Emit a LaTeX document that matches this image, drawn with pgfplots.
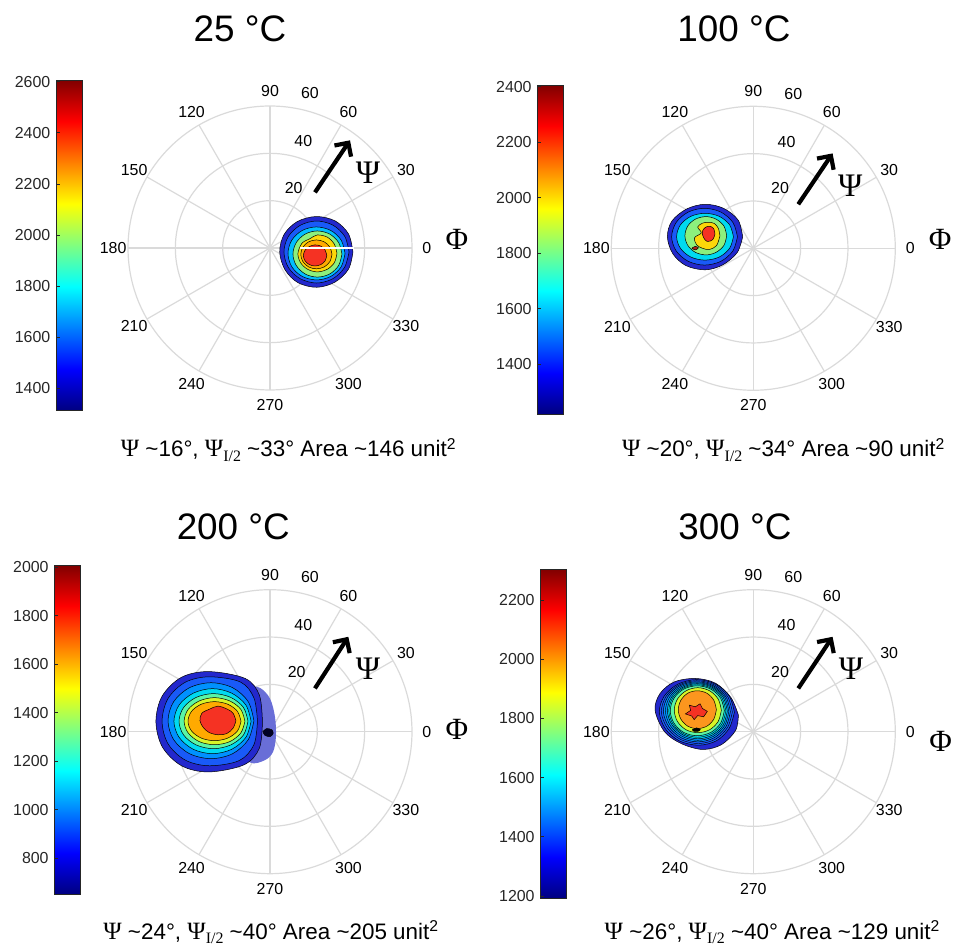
\documentclass[border=0pt]{standalone}
\usepackage{pgfplots}
\pgfplotsset{compat=1.18}
\usepackage{fontspec}
\setmainfont{Liberation Sans}
\newfontfamily\seriffont{Liberation Serif}
\usetikzlibrary{calc,arrows.meta}

\definecolor{gridgray}{RGB}{218,218,218}
\definecolor{tickdark}{RGB}{38,38,38}
\definecolor{cNavy}{RGB}{35,40,205}
\definecolor{cBlue}{RGB}{25,90,248}
\definecolor{cMid}{RGB}{0,145,255}
\definecolor{cSky}{RGB}{0,190,255}
\definecolor{cCyan}{RGB}{0,218,240}
\definecolor{cAqua}{RGB}{90,245,165}
\definecolor{cGreen}{RGB}{140,240,125}
\definecolor{cYG}{RGB}{215,245,40}
\definecolor{cYellow}{RGB}{252,215,10}
\definecolor{cOrange}{RGB}{255,170,0}
\definecolor{cOrange2}{RGB}{252,150,30}
\definecolor{cRed}{RGB}{245,50,35}
\definecolor{cLobe}{RGB}{105,110,215}

\pgfplotsset{
  polarbase/.style={
    scale only axis, width=331.3bp, height=331.3bp,
    xmin=-70, xmax=70, ymin=-70, ymax=70,
    hide axis, clip=false, anchor=center,
    colormap/jet, colorbar left,
    colorbar shift/.style={},
    colorbar/width=26.4bp,
    colorbar style={
      anchor=south west,
      scale only axis,
      width=26.4bp,
      yticklabel pos=left, ytick pos=left,
      axis line style={draw=tickdark, line width=0.8bp},
      major tick style={draw=tickdark, line width=0.8bp},
      major tick length=4bp,
      yticklabel style={font=\fontsize{16}{19}\selectfont, text=tickdark, inner sep=0pt, xshift=-5.5bp},
      /pgf/number format/1000 sep={},
      /pgf/number format/assume math mode=true,
    },
  },
  blob/.style={draw=black, line width=0.5bp, smooth, tension=0.55},
  cline/.style={draw=black, line width=0.45bp, smooth, tension=0.55},
}

\newcommand{\polargrid}{%
  \draw[gridgray, line width=1.2bp] (axis cs:0,0) circle[radius=20];
  \draw[gridgray, line width=1.2bp] (axis cs:0,0) circle[radius=40];
  \draw[gridgray, line width=1.2bp] (axis cs:0,0) circle[radius=60];
  \pgfplotsinvokeforeach{0,30,...,330}{%
    \draw[gridgray, line width=1.2bp] (axis cs:0,0) -- (axis cs:{60*cos(##1)},{60*sin(##1)});
  }%
}
\newcommand{\polarlabels}[1]{%
  \pgfplotsinvokeforeach{0,30,...,330}{%
    \node[font=\fontsize{16}{19}\selectfont, inner sep=0pt] at (axis cs:{66.3*cos(##1)},{66.3*sin(##1)}) {##1};
  }%
  \node[font=\fontsize{16}{19}\selectfont, inner sep=0pt] at (axis cs:#1,25.35) {20};
  \node[font=\fontsize{16}{19}\selectfont, inner sep=0pt] at (axis cs:14.07,45.1) {40};
  \node[font=\fontsize{16}{19}\selectfont, inner sep=0pt] at (axis cs:16.9,65.3) {60};
}
\newcommand{\subt}[3]{{\seriffont\fontsize{25}{25}\selectfont Ψ} \textasciitilde #1°, {\seriffont\fontsize{25}{25}\selectfont Ψ\raisebox{-0.4ex}{\fontsize{16}{16}\selectfont I/2}} \textasciitilde #2° Area \textasciitilde #3 unit\textsuperscript{2}}
\newcommand{\arrowlab}[4]{%
  \draw[line width=4.2bp, -{Straight Barb[length=10bp,width=20bp]}] (axis cs:#1) -- (axis cs:#2);
  \node[font=\seriffont\fontsize{33}{38}\selectfont] at (axis cs:#3) {Ψ};
  \node[font=\seriffont\fontsize{31}{37}\selectfont] at (axis cs:#4) {Φ};
}

\begin{document}
\begin{tikzpicture}
\useasboundingbox (0,0) rectangle (954bp,946bp);

% titles
\node[font=\fontsize{37}{44}\selectfont, anchor=base] at (240bp,904bp) {25 °C};
\node[font=\fontsize{37}{44}\selectfont, anchor=base] at (734bp,904.3bp) {100 °C};
\node[font=\fontsize{37}{44}\selectfont, anchor=base] at (233.3bp,406bp) {200 °C};
\node[font=\fontsize{37}{44}\selectfont, anchor=base] at (735bp,406bp) {300 °C};

% subtitles
\node[font=\fontsize{22.5}{26}\selectfont, anchor=base] at (288.5bp,489.3bp) {\subt{16}{33}{146}};
\node[font=\fontsize{22.5}{26}\selectfont, anchor=base] at (783.5bp,489.3bp) {\subt{20}{34}{90}};
\node[font=\fontsize{22.5}{26}\selectfont, anchor=base] at (271bp,6.7bp) {\subt{24}{40}{205}};
\node[font=\fontsize{22.5}{26}\selectfont, anchor=base] at (772.3bp,6.7bp) {\subt{26}{40}{129}};

% ---------------- 25 C ----------------
\begin{axis}[polarbase, at={(270bp,698bp)},
  point meta min=1312, point meta max=2607,
  colorbar style={at={($(parent axis.center)+(-214bp,-162.7bp)$)}, height=330.7bp, ytick={1400,1600,...,2600}}]
\polargrid
\addplot[blob, fill=cNavy] coordinates {(35.05,-1.7) (33.2,5.9) (27.6,11.4) (19.6,13.3) (11.6,11.2) (6.0,5.8) (4.1,-1.7) (6.4,-9.3) (11.9,-14.7) (19.8,-16.6) (27.5,-14.4) (33.2,-8.9) (35.05,-1.7)};
\addplot[blob, fill=cBlue] coordinates {(33.4,-1.7) (31.6,4.9) (26.5,9.7) (19.6,11.4) (12.8,9.6) (7.7,4.8) (5.9,-1.7) (7.8,-8.3) (12.8,-13.0) (19.7,-14.8) (26.5,-13.0) (31.5,-8.2) (33.4,-1.7)};
\addplot[blob, fill=cSky] coordinates {(31.7,-2.3) (30.1,3.3) (25.7,7.4) (19.6,8.9) (13.6,7.4) (9.2,3.3) (7.6,-2.3) (9.2,-7.9) (13.6,-12.0) (19.7,-13.5) (25.7,-12.0) (30.1,-7.9) (31.7,-2.3)};
\addplot[blob, fill=cGreen] coordinates {(30.4,-2.55) (29.0,2.3) (25.2,5.9) (20.0,7.2) (14.9,5.9) (11.1,2.3) (9.7,-2.55) (11.1,-7.4) (14.9,-11.0) (20.0,-12.3) (25.2,-11.0) (29.0,-7.4) (30.4,-2.55)};
\addplot[blob, fill=cYellow] coordinates {(28.3,-2.3) (27.2,1.6) (24.2,4.6) (20.0,5.5) (17.0,4.0) (13.5,2.0) (11.8,-2.3) (12.9,-6.2) (15.9,-9.0) (20.0,-10.1) (24.2,-9.0) (27.2,-6.2) (28.3,-2.3)};
\addplot[blob, fill=cOrange] coordinates {(26.2,-2.7) (25.3,0.35) (22.9,2.6) (19.6,3.4) (16.3,2.6) (13.9,0.35) (13.0,-2.7) (13.9,-5.75) (16.3,-8.0) (19.6,-8.8) (22.9,-8.0) (25.3,-5.75) (26.2,-2.7)};
\addplot[blob, fill=cRed] coordinates {(24.0,-3.2) (23.3,-0.9) (21.5,0.8) (19.0,1.3) (16.6,0.6) (14.8,-1.0) (14.1,-3.2) (14.8,-5.4) (16.6,-7.0) (19.0,-7.6) (21.5,-7.0) (23.3,-5.4) (24.0,-3.2)};
\draw[white, line width=1.8bp] (axis cs:12.5,0) -- (axis cs:35.3,0);
\polarlabels{10.0}
\arrowlab{19.0,23.5}{33.8,45.5}{41.4,31.7}{79.0,3.8}
\end{axis}

% ---------------- 100 C ----------------
\begin{axis}[polarbase, at={(753.3bp,697.7bp)},
  point meta min=1220, point meta max=2406,
  colorbar style={at={($(parent axis.center)+(-216bp,-166bp)$)}, height=329.3bp, ytick={1400,1600,...,2400}}]
\polargrid
\addplot[blob, fill=cNavy] coordinates {(-4.5,4.8) (-6.4,11.9) (-12.6,16.9) (-20.4,18.6) (-28.2,16.6) (-34.4,11.5) (-36.3,4.8) (-34.0,-2.3) (-28.5,-7.3) (-20.4,-9.1) (-12.9,-7.0) (-6.8,-1.8) (-4.5,4.8)};
\addplot[blob, fill=cBlue] coordinates {(-6.7,4.9) (-8.6,10.9) (-13.7,15.3) (-20.6,16.9) (-27.5,15.3) (-32.6,10.9) (-34.5,4.9) (-32.6,-1.1) (-27.5,-5.5) (-20.6,-7.1) (-13.7,-5.5) (-8.6,-1.1) (-6.7,4.9)};
\addplot[blob, fill=cCyan] coordinates {(-8.4,4.9) (-10.0,9.9) (-14.4,13.5) (-20.4,14.8) (-26.4,13.5) (-30.8,9.9) (-32.4,4.9) (-30.8,0) (-26.4,-3.7) (-20.4,-5.0) (-14.4,-3.7) (-10.0,0) (-8.4,4.9)};
\addplot[blob, fill=cGreen] coordinates {(-11.25,5.3) (-12.4,9.4) (-15.7,12.3) (-20.0,13.4) (-24.5,12.3) (-27.7,9.4) (-28.9,5.3) (-27.7,1.25) (-24.5,-1.7) (-20.0,-2.8) (-15.7,-1.7) (-12.4,1.25) (-11.25,5.3)};
\addplot[blob, fill=cYellow] coordinates {(-14.1,5.3) (-14.8,8.5) (-16.5,10.5) (-19.0,11.0) (-21.5,10.6) (-23.5,9.0) (-22.0,6.5) (-24.8,4.5) (-24.0,1.5) (-21.5,0.0) (-18.5,-0.5) (-15.5,1.2) (-14.1,5.3)};
\addplot[blob, fill=cRed] coordinates {(-16.2,6.0) (-16.8,8.4) (-18.5,9.3) (-20.3,8.8) (-21.6,7.0) (-21.0,4.5) (-19.5,2.9) (-17.2,3.6) (-16.2,6.0)};
\addplot[blob, fill=cRed!70!black] coordinates {(-26,0) (-24.6,0.8) (-23.2,0.2) (-24.5,-0.7) (-26,0)};
\polarlabels{11.28}
\arrowlab{19.0,18.6}{33.5,40.1}{41.0,26.6}{79.0,3.8}
\end{axis}

% ---------------- 200 C ----------------
\begin{axis}[polarbase, at={(270bp,214.3bp)},
  point meta min=652, point meta max=2009,
  colorbar style={at={($(parent axis.center)+(-215.7bp,-162.6bp)$)}, height=329.3bp, ytick={800,1000,...,2000}}]
\polargrid
\addplot[smooth, tension=0.55, draw=none, fill=cLobe] coordinates {(-10,19.5) (-4.2,18.5) (0,14.0) (2.1,6.3) (2.5,-2.1) (1.3,-8.5) (-2.1,-12.0) (-8.5,-13.0) (-15,-5) (-15,15) (-10,19.5)};
\addplot[blob, fill=cNavy] coordinates {(-3.2,4.2) (-4.5,15.5) (-10.5,22.5) (-25.8,25.4) (-37.4,23.0) (-45.6,15.0) (-48.2,4.2) (-45.4,-6.6) (-37.2,-14.5) (-25.8,-17.0) (-11.0,-14.0) (-4.5,-7.0) (-3.2,4.2)};
\addplot[blob, fill=cBlue] coordinates {(-5.3,4.4) (-6.8,14.3) (-12.5,21.0) (-25.6,23.2) (-35.8,20.9) (-43.1,14.0) (-45.6,4.4) (-43.1,-5.1) (-35.8,-12.0) (-25.6,-14.4) (-13.0,-12.2) (-6.8,-5.5) (-5.3,4.4)};
\addplot[blob, fill=cMid] coordinates {(-6.8,4.65) (-9.2,12.7) (-15.8,18.6) (-24.9,20.7) (-34.0,18.6) (-40.7,12.7) (-43.1,4.65) (-40.7,-3.4) (-34.0,-9.3) (-24.9,-11.4) (-15.8,-9.3) (-9.2,-3.4) (-6.8,4.65)};
\addplot[blob, fill=cCyan] coordinates {(-8.0,4.4) (-10.2,11.3) (-16.2,16.3) (-24.3,18.2) (-32.4,16.3) (-38.4,11.3) (-40.6,4.4) (-38.4,-2.4) (-32.4,-7.45) (-24.3,-9.3) (-16.2,-7.45) (-10.2,-2.4) (-8.0,4.4)};
\addplot[blob, fill=cAqua] coordinates {(-9.3,4.4) (-11.2,10.25) (-16.6,14.5) (-23.9,16.1) (-31.2,14.5) (-36.5,10.25) (-38.45,4.4) (-36.5,-1.4) (-31.2,-5.6) (-23.9,-7.2) (-16.6,-5.6) (-11.2,-1.4) (-9.3,4.4)};
\addplot[blob, fill=cYG] coordinates {(-10.6,4.4) (-12.3,9.4) (-17.0,13.0) (-23.45,14.4) (-29.9,13.0) (-34.6,9.4) (-36.3,4.4) (-34.6,-0.5) (-29.9,-4.2) (-23.45,-5.5) (-17.0,-4.2) (-12.3,-0.5) (-10.6,4.4)};
\addplot[blob, fill=cOrange] coordinates {(-12.25,4.4) (-13.75,8.6) (-17.85,11.6) (-23.45,12.7) (-29.05,11.6) (-33.15,8.6) (-34.65,4.4) (-33.15,0.3) (-29.05,-2.7) (-23.45,-3.8) (-17.85,-2.7) (-13.75,0.3) (-12.25,4.4)};
\addplot[blob, fill=cRed] coordinates {(-14.4,4.65) (-15.6,7.8) (-18.0,9.5) (-22.0,10.8) (-25.6,9.5) (-28.8,7.8) (-29.6,4.65) (-28.2,1.8) (-25.8,-0.3) (-22.0,-1.3) (-18.3,-0.8) (-15.6,1.5) (-14.4,4.65)};
\addplot[blob, fill=black!85!blue] coordinates {(-3,0) (-1.5,1.3) (0.8,0.8) (1.3,-0.8) (0,-2.1) (-2.2,-1.5) (-3,0)};
\polarlabels{11.28}
\arrowlab{19.0,18.3}{33.1,40.1}{41.4,26.6}{79.0,0.85}
\end{axis}

% ---------------- 300 C ----------------
\begin{axis}[polarbase, at={(753.3bp,214.3bp)},
  point meta min=1192, point meta max=2305,
  colorbar style={at={($(parent axis.center)+(-213bp,-166.6bp)$)}, height=329.3bp, ytick={1200,1400,...,2200}}]
\polargrid
\addplot[blob, fill=cNavy] coordinates {(-6.3,7.0) (-9.5,14.5) (-16.0,20.5) (-24.5,22.5) (-33.5,21.0) (-39.5,16.0) (-41.5,9.0) (-37.5,0.0) (-30.5,-5.0) (-21.5,-7.5) (-13.5,-5.5) (-7.5,0.5) (-6.3,7.0)};
\addplot[blob, fill=cBlue] coordinates {(-8.0,8.2) (-10.2,15.1) (-16.0,20.1) (-23.9,22.0) (-31.8,20.1) (-37.6,15.1) (-39.7,8.2) (-37.0,1.0) (-31.0,-4.0) (-23.0,-5.7) (-15.5,-3.8) (-10.2,1.4) (-8.0,8.2)};
\addplot[cline] coordinates {(-8.85,8.33) (-10.9,14.95) (-16.4,19.75) (-23.9,21.55) (-31.4,19.75) (-36.85,14.95) (-38.85,8.33) (-36.3,1.5) (-30.7,-3.3) (-23.2,-5.0) (-16.05,-3.2) (-10.9,1.75) (-8.85,8.33)};
\addplot[blob, fill=cMid] coordinates {(-9.7,8.45) (-11.6,14.8) (-16.8,19.4) (-23.9,21.1) (-31.0,19.4) (-36.1,14.8) (-38.0,8.45) (-35.6,2.0) (-30.4,-2.6) (-23.4,-4.3) (-16.6,-2.6) (-11.6,2.1) (-9.7,8.45)};
\addplot[cline] coordinates {(-10.35,8.58) (-12.15,14.65) (-17.05,19.05) (-23.8,20.7) (-30.5,19.05) (-35.35,14.65) (-37.15,8.58) (-34.95,2.4) (-30.0,-2.0) (-23.4,-3.65) (-16.95,-2.0) (-12.15,2.48) (-10.35,8.58)};
\addplot[blob, fill=cCyan] coordinates {(-11.0,8.7) (-12.7,14.5) (-17.3,18.7) (-23.7,20.3) (-30.0,18.7) (-34.6,14.5) (-36.3,8.7) (-34.3,2.8) (-29.6,-1.4) (-23.4,-3.0) (-17.3,-1.4) (-12.7,2.85) (-11.0,8.7)};
\addplot[cline] coordinates {(-11.6,8.8) (-13.25,14.33) (-17.6,18.35) (-23.7,19.85) (-29.7,18.35) (-34.05,14.33) (-35.7,8.8) (-33.9,3.2) (-29.5,-0.85) (-23.55,-2.35) (-17.6,-0.85) (-13.25,3.2) (-11.6,8.8)};
\addplot[blob, fill=cAqua] coordinates {(-12.25,8.9) (-13.8,14.15) (-17.95,18.0) (-23.7,19.4) (-29.4,18.0) (-33.5,14.15) (-35.1,8.9) (-33.5,3.6) (-29.4,-0.3) (-23.7,-1.7) (-17.95,-0.3) (-13.8,3.6) (-12.25,8.9)};
\addplot[blob, fill=cYG] coordinates {(-13.5,9.1) (-14.85,13.8) (-18.5,17.3) (-23.45,18.6) (-28.4,17.3) (-32.05,13.8) (-33.4,9.1) (-32.05,4.3) (-28.4,0.8) (-23.45,-0.4) (-18.5,0.8) (-14.85,4.3) (-13.5,9.1)};
\addplot[blob, fill=cOrange2] coordinates {(-15.6,9.3) (-16.7,13.3) (-19.6,16.25) (-23.7,17.3) (-27.7,16.25) (-30.6,13.3) (-31.7,9.3) (-30.6,5.3) (-27.7,2.35) (-23.7,1.3) (-19.6,2.35) (-16.7,5.3) (-15.6,9.3)};
\addplot[draw=black, line width=0.5bp, sharp plot, fill=cRed] coordinates {(-19.4,8.6) (-21.5,9.8) (-22.5,11.8) (-24.5,10.5) (-27.0,11.2) (-26.5,9.0) (-28.7,7.5) (-26.0,6.6) (-25.0,5.1) (-23.5,6.8) (-21.0,6.3) (-19.4,8.6)};
\addplot[blob, fill=black] coordinates {(-25.8,0.8) (-24.0,1.6) (-22.4,0.9) (-23.5,0.1) (-25.0,0.1) (-25.8,0.8)};
\polarlabels{11.28}
\arrowlab{19.0,18.3}{33.5,40.1}{41.3,26.5}{79.2,-4.2}
\end{axis}
\end{tikzpicture}
\end{document}
